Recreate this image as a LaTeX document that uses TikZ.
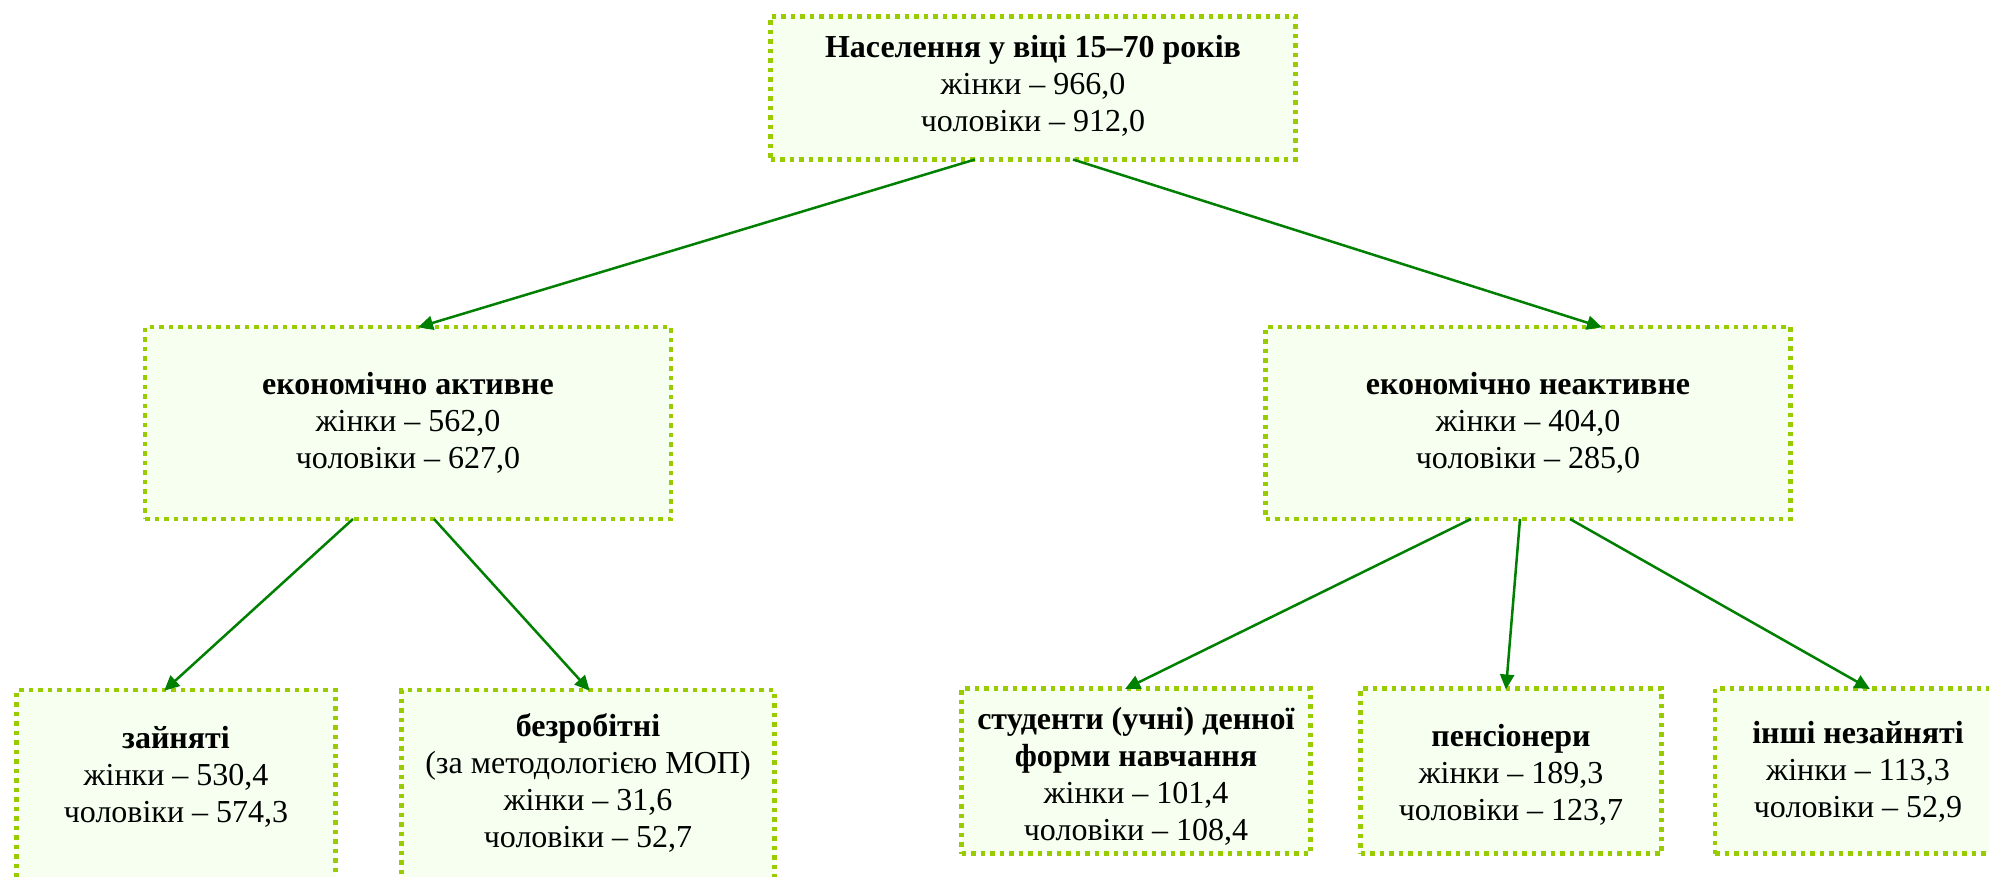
\documentclass[tikz,border=0pt]{standalone}
\usepackage{fontspec}
\setmainfont{Liberation Serif}
\usetikzlibrary{arrows.meta}
\definecolor{bordergreen}{RGB}{153,204,0}
\definecolor{boxfill}{RGB}{246,255,240}
\definecolor{arrowgreen}{RGB}{0,128,0}
\tikzset{
  box/.style={rectangle, draw=bordergreen, fill=boxfill, line width=4.5pt,
    dash pattern=on 4.5pt off 5pt, inner sep=0pt, outer sep=0pt},
  txt/.style={align=center, inner sep=0pt, font=\fontsize{32}{37}\selectfont},
  conn/.style={draw=arrowgreen, line width=2.5pt,
    -{Triangle[length=15pt,width=14pt]}, shorten >=-1pt}
}
\begin{document}
\begin{tikzpicture}[x=1pt,y=-1pt]
\useasboundingbox (0,0) rectangle (1989,877);
\clip (0,0) rectangle (1989,877);
\fill[white] (0,0) rectangle (1989,877);

% top
\node[box, minimum width=525pt, minimum height=143pt] (top) at (1033,88) {};
\node[txt] (toptxt) at (1033,86) {\textbf{Населення у віці 15–70 років}\\жінки – 966,0\\чоловіки – 912,0};

% level 2
\node[box, minimum width=526pt, minimum height=192pt] (act) at (408,423) {};
\node[txt] (acttxt) at (408,423) {\textbf{економічно активне}\\жінки – 562,0\\чоловіки – 627,0};
\node[box, minimum width=525pt, minimum height=192pt] (inact) at (1528,423) {};
\node[txt] (inacttxt) at (1528,423) {\textbf{економічно неактивне}\\жінки – 404,0\\чоловіки – 285,0};

% level 3
\node[box, minimum width=319pt, minimum height=300pt, anchor=north] (zan) at (176,690) {};
\node[txt] (zantxt) at (176,777) {\textbf{зайняті}\\жінки – 530,4\\чоловіки – 574,3};
\node[box, minimum width=373pt, minimum height=300pt, anchor=north] (bez) at (588,690) {};
\node[txt] (beztxt) at (588,783) {\textbf{безробітні}\\(за методологією МОП)\\жінки – 31,6\\чоловіки – 52,7};
\node[box, minimum width=349pt, minimum height=165pt] (stud) at (1136,771) {};
\node[txt] (studtxt) at (1136,776) {\textbf{студенти (учні) денної}\\\textbf{форми навчання}\\жінки – 101,4\\чоловіки – 108,4};
\node[box, minimum width=301pt, minimum height=165pt] (pens) at (1511,771) {};
\node[txt] (penstxt) at (1511,775) {\textbf{пенсіонери}\\жінки – 189,3\\чоловіки – 123,7};
\node[box, minimum width=288pt, minimum height=165pt] (insh) at (1859,771) {};
\node[txt] (inshtxt) at (1858,772) {\textbf{інші незайняті}\\жінки – 113,3\\чоловіки – 52,9};

% connectors
\draw[conn] ([xshift=-58pt]top.south) -- ([xshift=11pt]act.north);
\draw[conn] ([xshift=40pt]top.south) -- ([xshift=73pt]inact.north);
\draw[conn] ([xshift=-55pt]act.south) -- ([xshift=-11pt]zan.north);
\draw[conn] ([xshift=26pt]act.south) -- ([xshift=1pt]bez.north);
\draw[conn] ([xshift=-57pt]inact.south) -- ([xshift=-10pt]stud.north);
\draw[conn] ([xshift=-8pt]inact.south) -- ([xshift=-5pt]pens.north);
\draw[conn] ([xshift=42pt]inact.south) -- ([xshift=10pt]insh.north);
\end{tikzpicture}
\end{document}
